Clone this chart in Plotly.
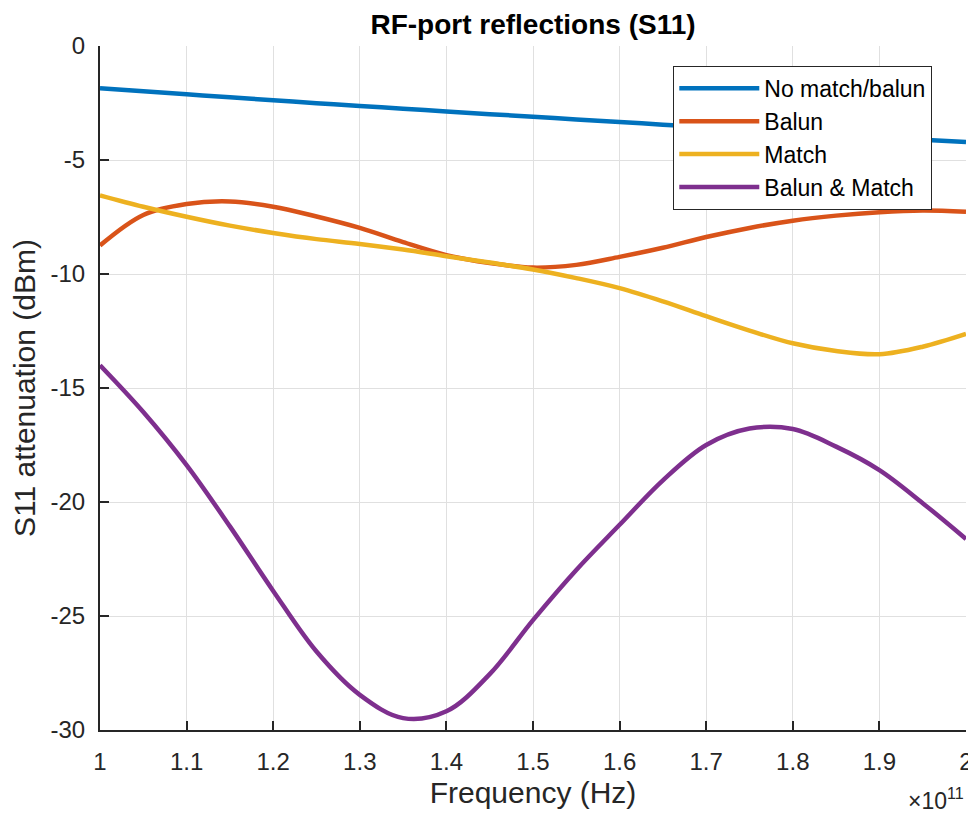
import plotly.graph_objects as go

# Frequency in Hz
freq_hz = [1.00e11, 1.05e11, 1.10e11, 1.15e11, 1.20e11, 1.25e11, 1.30e11, 1.35e11,
           1.40e11, 1.45e11, 1.50e11, 1.55e11, 1.60e11, 1.65e11, 1.70e11, 1.75e11,
           1.80e11, 1.85e11, 1.90e11, 1.95e11, 2.00e11]

no_match_balun = [-1.85, -1.98, -2.12, -2.25, -2.38, -2.51, -2.63, -2.75, -2.87, -2.99, -3.10,
                  -3.22, -3.33, -3.45, -3.56, -3.67, -3.78, -3.89, -4.00, -4.11, -4.21]
balun = [-8.75, -7.41, -6.93, -6.82, -7.05, -7.48, -7.98, -8.60, -9.17, -9.52, -9.72,
         -9.60, -9.25, -8.85, -8.38, -7.98, -7.66, -7.44, -7.29, -7.22, -7.27]
match = [-6.55, -7.05, -7.49, -7.88, -8.20, -8.47, -8.68, -8.93, -9.22, -9.50, -9.80,
         -10.18, -10.62, -11.20, -11.85, -12.48, -13.04, -13.38, -13.52, -13.19, -12.63]
balun_match = [-14.00, -16.05, -18.38, -21.07, -23.90, -26.56, -28.46, -29.48, -29.18, -27.55, -25.18,
               -22.98, -21.00, -19.05, -17.50, -16.78, -16.80, -17.57, -18.60, -20.05, -21.62]

series_names = ["No match/balun", "Balun", "Match", "Balun & Match"]
series_values = [no_match_balun, balun, match, balun_match]
series_colors = ["#0072BD", "#D95319", "#EDB120", "#7E2F8E"]

x_tickvals = [1.0e11, 1.1e11, 1.2e11, 1.3e11, 1.4e11, 1.5e11, 1.6e11, 1.7e11, 1.8e11, 1.9e11, 2.0e11]
x_ticktext = ["1", "1.1", "1.2", "1.3", "1.4", "1.5", "1.6", "1.7", "1.8", "1.9", "2"]
y_tickvals = [0, -5, -10, -15, -20, -25, -30]
y_ticktext = ["0", "-5", "-10", "-15", "-20", "-25", "-30"]

FONT = "Liberation Sans, Arial, sans-serif"
AX = "#262626"

# The page body adds an 8 px margin, so the figure is sized to fill the rest of the window.
W, H = 968, 805

fig = go.Figure()
for name, vals, col in zip(series_names, series_values, series_colors):
    fig.add_trace(go.Scatter(x=freq_hz, y=vals, mode="lines", name=name,
                             line=dict(color=col, width=4.5, shape="spline", smoothing=1.0)))

fig.update_layout(
    width=W, height=H,
    margin=dict(l=92, r=10, t=38, b=83, autoexpand=False),
    paper_bgcolor="white", plot_bgcolor="white",
    font=dict(family=FONT, color=AX, size=24),
    title=dict(text="<b>RF-port reflections (S11)</b>", x=0.5, xref="paper",
               y=1 - 16 / H, yref="container", yanchor="middle", xanchor="center",
               automargin=False,
               font=dict(family=FONT, size=28, color="black")),
    showlegend=True,
    legend=dict(x=0.662, y=0.971, xanchor="left", yanchor="top",
                bgcolor="white", bordercolor=AX, borderwidth=1,
                font=dict(family=FONT, size=23, color="black"),
                itemwidth=80, tracegroupgap=0),
)

fig.update_xaxes(
    range=[1.0e11, 2.0e11], tickmode="array", tickvals=x_tickvals, ticktext=x_ticktext,
    automargin=False, ticklabeloverflow="allow",
    showline=True, linecolor=AX, linewidth=2, mirror=False,
    ticks="inside", ticklen=9, tickwidth=2, tickcolor=AX,
    showgrid=True, gridcolor="#e0e0e0", gridwidth=1, zeroline=False,
    tickfont=dict(family=FONT, size=24, color=AX), ticklabelstandoff=9,
    title=dict(text="Frequency (Hz)", font=dict(family=FONT, size=30, color=AX), standoff=8),
)
fig.update_yaxes(
    range=[-30, 0], tickmode="array", tickvals=y_tickvals, ticktext=y_ticktext,
    automargin=False, ticklabeloverflow="allow",
    showline=True, linecolor=AX, linewidth=2, mirror=False,
    ticks="inside", ticklen=9, tickwidth=2, tickcolor=AX,
    showgrid=True, gridcolor="#e0e0e0", gridwidth=1, zeroline=False,
    tickfont=dict(family=FONT, size=24, color=AX), ticklabelstandoff=8,
    title=dict(text="S11 attenuation (dBm)", font=dict(family=FONT, size=30, color=AX), standoff=6),
)

fig.add_annotation(text="\u00d710<sup>11</sup>", xref="paper", yref="paper",
                   x=1.0, y=0, xanchor="right", yanchor="top", yshift=-52,
                   showarrow=False, font=dict(family=FONT, size=23, color=AX))

fig.write_html("out.html")
